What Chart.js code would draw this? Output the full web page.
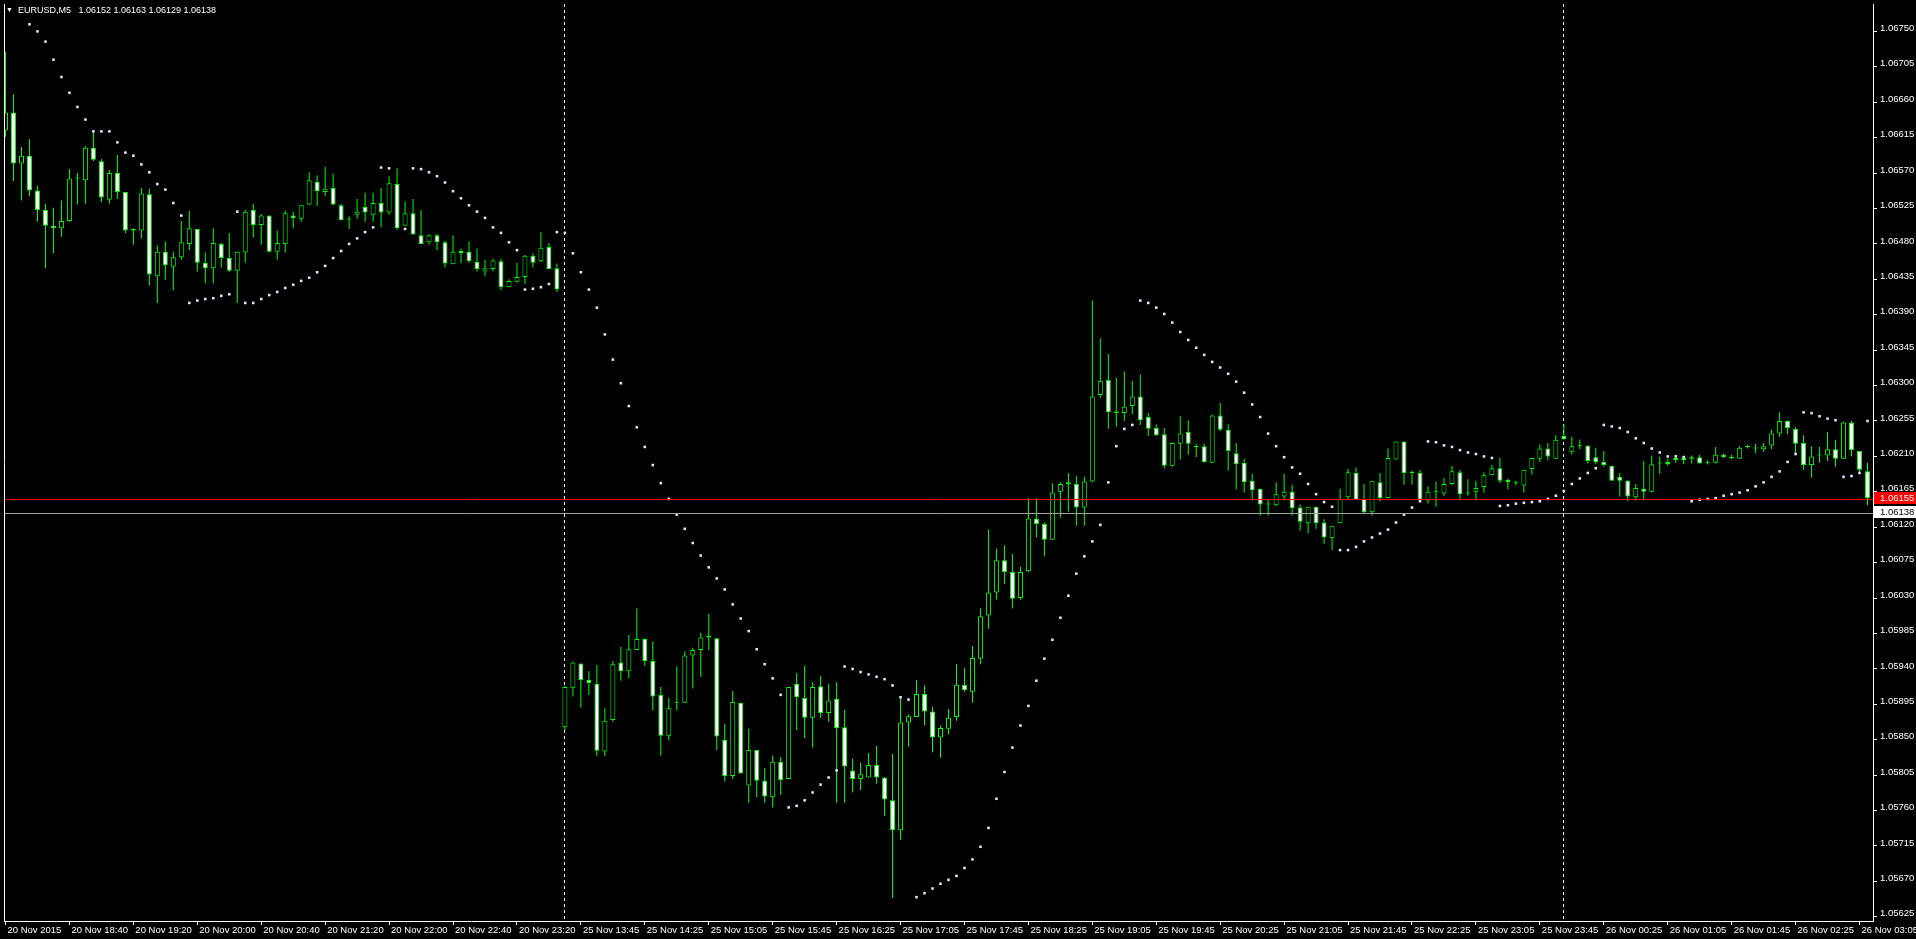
<!DOCTYPE html>
<html>
<head>
<meta charset="utf-8">
<script src="https://cdn.jsdelivr.net/npm/chart.js@4.4.0/dist/chart.umd.min.js"></script>
<style>
  html, body { margin: 0; padding: 0; background: #000; overflow: hidden; }
  #wrap { position: relative; width: 1916px; height: 939px; }
  #head { position: absolute; left: 6px; top: 5px; color: #fff; font: 9px "Liberation Sans", Arial, sans-serif; white-space: pre; }
  #tri { font-size: 7px; position: relative; top: -1px; }
</style>
</head>
<body>
<div id="wrap"><canvas id="myChart"></canvas><div id="head"><span id="tri">&#9660;</span>  <span id="title"></span></div></div>
<script>
var symbol = 'EURUSD,M5';

// one value per M5 bar, bar index = position in the array
var opens = [1.06624,1.06647,1.06582,1.06592,1.06548,1.06523,1.06503,1.06500,1.06509,1.06563,
1.06561,1.06602,1.06585,1.06536,1.06570,1.06546,1.06497,1.06497,1.06543,1.06439,
1.06470,1.06451,1.06463,1.06480,1.06499,1.06456,1.06449,1.06480,1.06462,1.06446,
1.06469,1.06523,1.06504,1.06516,1.06470,1.06480,1.06516,1.06512,1.06530,1.06559,
1.06546,1.06551,1.06529,1.06511,1.06517,1.06527,1.06517,1.06532,1.06520,1.06556,
1.06503,1.06519,1.06491,1.06482,1.06491,1.06482,1.06454,1.06471,1.06470,1.06457,
1.06445,1.06448,1.06458,1.06425,1.06432,1.06438,1.06465,1.06458,1.06476,1.06449,
1.05866,1.05916,1.05947,1.05926,1.05921,1.05835,1.05875,1.05948,1.05937,1.05964,
1.05978,1.05950,1.05907,1.05855,1.05897,1.05897,1.05957,1.05964,1.05980,1.05979,
1.05850,1.05804,1.05897,1.05792,1.05837,1.05798,1.05777,1.05822,1.05800,1.05921,
1.05903,1.05878,1.05918,1.05884,1.05902,1.05866,1.05811,1.05800,1.05802,1.05818,
1.05802,1.05773,1.05735,1.05872,1.05879,1.05908,1.05886,1.05853,1.05864,1.05879,
1.05920,1.05911,1.05953,1.06008,1.06037,1.06078,1.06063,1.06030,1.06064,1.06131,
1.06124,1.06104,1.06165,1.06175,1.06175,1.06145,1.06178,1.06288,1.06307,1.06267,
1.06265,1.06274,1.06286,1.06260,1.06246,1.06238,1.06198,1.06226,1.06241,1.06222,
1.06223,1.06202,1.06262,1.06244,1.06214,1.06202,1.06179,1.06169,1.06149,1.06148,
1.06159,1.06165,1.06145,1.06125,1.06146,1.06126,1.06106,1.06125,1.06158,1.06189,
1.06156,1.06139,1.06177,1.06157,1.06206,1.06229,1.06189,1.06189,1.06154,1.06165,
1.06163,1.06175,1.06190,1.06163,1.06165,1.06171,1.06186,1.06195,1.06180,1.06176,
1.06173,1.06194,1.06207,1.06220,1.06207,1.06236,1.06216,1.06223,1.06224,1.06209,
1.06203,1.06198,1.06184,1.06179,1.06158,1.06169,1.06165,1.06201,1.06203,1.06208,
1.06208,1.06207,1.06209,1.06202,1.06202,1.06212,1.06208,1.06207,1.06222,1.06220,
1.06219,1.06224,1.06239,1.06255,1.06245,1.06227,1.06199,1.06211,1.06211,1.06219,
1.06207,1.06253,1.06217,1.06191,1.06152];

var highs = [1.06724,1.06670,1.06603,1.06613,1.06554,1.06531,1.06526,1.06535,1.06575,1.06570,
1.06604,1.06623,1.06588,1.06574,1.06593,1.06546,1.06500,1.06551,1.06550,1.06478,
1.06483,1.06470,1.06509,1.06522,1.06499,1.06469,1.06500,1.06481,1.06494,1.06470,
1.06523,1.06531,1.06518,1.06516,1.06497,1.06522,1.06521,1.06529,1.06571,1.06567,
1.06578,1.06569,1.06531,1.06515,1.06537,1.06545,1.06545,1.06551,1.06566,1.06576,
1.06534,1.06537,1.06523,1.06492,1.06493,1.06484,1.06491,1.06474,1.06483,1.06474,
1.06460,1.06461,1.06461,1.06435,1.06456,1.06466,1.06468,1.06495,1.06481,1.06455,
1.05918,1.05949,1.05947,1.05937,1.05945,1.05890,1.05950,1.05968,1.05983,1.06017,
1.05979,1.05975,1.05917,1.05903,1.05943,1.05962,1.05967,1.05986,1.06010,1.05979,
1.05870,1.05912,1.05897,1.05864,1.05837,1.05814,1.05830,1.05828,1.05917,1.05935,
1.05944,1.05923,1.05931,1.05921,1.05923,1.05888,1.05826,1.05821,1.05833,1.05842,
1.05802,1.05832,1.05904,1.05882,1.05926,1.05919,1.05892,1.05868,1.05889,1.05946,
1.05941,1.05969,1.06017,1.06117,1.06093,1.06097,1.06086,1.06070,1.06157,1.06157,
1.06126,1.06176,1.06177,1.06189,1.06185,1.06184,1.06408,1.06360,1.06340,1.06310,
1.06318,1.06306,1.06314,1.06265,1.06251,1.06246,1.06228,1.06261,1.06256,1.06226,
1.06226,1.06263,1.06278,1.06251,1.06227,1.06207,1.06188,1.06169,1.06156,1.06177,
1.06188,1.06174,1.06149,1.06146,1.06146,1.06130,1.06122,1.06169,1.06194,1.06196,
1.06175,1.06179,1.06189,1.06220,1.06229,1.06229,1.06192,1.06193,1.06172,1.06178,
1.06183,1.06198,1.06193,1.06181,1.06179,1.06190,1.06199,1.06208,1.06182,1.06179,
1.06193,1.06208,1.06225,1.06227,1.06237,1.06251,1.06235,1.06231,1.06224,1.06221,
1.06217,1.06198,1.06189,1.06180,1.06175,1.06204,1.06211,1.06210,1.06207,1.06212,
1.06211,1.06211,1.06212,1.06205,1.06222,1.06214,1.06212,1.06223,1.06225,1.06226,
1.06227,1.06244,1.06266,1.06256,1.06247,1.06237,1.06223,1.06222,1.06241,1.06231,
1.06254,1.06255,1.06217,1.06202,1.06163];

var lows = [1.06616,1.06560,1.06535,1.06541,1.06508,1.06449,1.06468,1.06489,1.06508,1.06530,
1.06531,1.06585,1.06533,1.06531,1.06537,1.06494,1.06479,1.06487,1.06427,1.06405,
1.06434,1.06421,1.06460,1.06472,1.06445,1.06430,1.06430,1.06450,1.06444,1.06405,
1.06456,1.06488,1.06479,1.06469,1.06460,1.06469,1.06500,1.06508,1.06529,1.06528,
1.06541,1.06529,1.06510,1.06499,1.06512,1.06508,1.06508,1.06501,1.06517,1.06498,
1.06503,1.06492,1.06480,1.06479,1.06472,1.06450,1.06454,1.06455,1.06456,1.06445,
1.06439,1.06445,1.06421,1.06425,1.06431,1.06429,1.06450,1.06457,1.06448,1.06419,
1.05862,1.05905,1.05891,1.05907,1.05829,1.05829,1.05873,1.05925,1.05928,1.05964,
1.05944,1.05887,1.05830,1.05849,1.05887,1.05897,1.05915,1.05930,1.05964,1.05837,
1.05797,1.05800,1.05807,1.05770,1.05777,1.05770,1.05764,1.05780,1.05800,1.05862,
1.05852,1.05840,1.05878,1.05873,1.05770,1.05770,1.05783,1.05786,1.05802,1.05794,
1.05753,1.05649,1.05723,1.05841,1.05879,1.05868,1.05834,1.05827,1.05857,1.05874,
1.05911,1.05897,1.05946,1.05991,1.06028,1.06048,1.06017,1.06028,1.06063,1.06107,
1.06083,1.06104,1.06132,1.06140,1.06122,1.06122,1.06177,1.06284,1.06245,1.06248,
1.06255,1.06264,1.06250,1.06236,1.06236,1.06195,1.06197,1.06206,1.06212,1.06209,
1.06202,1.06202,1.06242,1.06192,1.06168,1.06164,1.06154,1.06135,1.06135,1.06147,
1.06154,1.06135,1.06116,1.06112,1.06118,1.06099,1.06091,1.06125,1.06155,1.06155,
1.06138,1.06135,1.06153,1.06157,1.06206,1.06174,1.06174,1.06153,1.06150,1.06146,
1.06160,1.06174,1.06154,1.06160,1.06154,1.06164,1.06186,1.06176,1.06168,1.06173,
1.06164,1.06187,1.06203,1.06205,1.06207,1.06231,1.06212,1.06219,1.06201,1.06200,
1.06197,1.06179,1.06159,1.06153,1.06154,1.06154,1.06164,1.06188,1.06198,1.06202,
1.06200,1.06201,1.06201,1.06200,1.06201,1.06208,1.06206,1.06207,1.06220,1.06214,
1.06216,1.06219,1.06235,1.06238,1.06213,1.06193,1.06183,1.06202,1.06204,1.06197,
1.06207,1.06210,1.06188,1.06148,1.06129];

var closes = [1.06647,1.06582,1.06592,1.06548,1.06523,1.06503,1.06500,1.06509,1.06563,1.06563,
1.06602,1.06587,1.06539,1.06570,1.06546,1.06497,1.06499,1.06544,1.06441,1.06470,
1.06453,1.06463,1.06482,1.06500,1.06456,1.06449,1.06481,1.06462,1.06446,1.06470,
1.06521,1.06504,1.06516,1.06470,1.06481,1.06519,1.06513,1.06529,1.06561,1.06547,
1.06550,1.06530,1.06510,1.06511,1.06521,1.06520,1.06532,1.06520,1.06557,1.06500,
1.06519,1.06492,1.06480,1.06491,1.06482,1.06455,1.06470,1.06468,1.06458,1.06448,
1.06449,1.06459,1.06425,1.06433,1.06438,1.06465,1.06456,1.06475,1.06448,1.06422,
1.05917,1.05948,1.05926,1.05922,1.05836,1.05874,1.05946,1.05937,1.05965,1.05978,
1.05950,1.05905,1.05855,1.05890,1.05897,1.05957,1.05964,1.05980,1.05982,1.05854,
1.05804,1.05898,1.05807,1.05837,1.05798,1.05778,1.05822,1.05799,1.05917,1.05904,
1.05878,1.05917,1.05884,1.05900,1.05865,1.05816,1.05800,1.05806,1.05818,1.05802,
1.05774,1.05735,1.05872,1.05880,1.05908,1.05886,1.05853,1.05865,1.05878,1.05920,
1.05913,1.05954,1.06007,1.06037,1.06078,1.06063,1.06029,1.06063,1.06131,1.06124,
1.06104,1.06164,1.06175,1.06177,1.06145,1.06178,1.06286,1.06306,1.06266,1.06265,
1.06273,1.06286,1.06256,1.06245,1.06237,1.06198,1.06227,1.06239,1.06226,1.06222,
1.06203,1.06262,1.06244,1.06217,1.06200,1.06177,1.06167,1.06149,1.06149,1.06162,
1.06165,1.06144,1.06127,1.06146,1.06125,1.06107,1.06122,1.06156,1.06190,1.06155,
1.06139,1.06179,1.06157,1.06208,1.06229,1.06189,1.06189,1.06155,1.06165,1.06165,
1.06175,1.06191,1.06162,1.06163,1.06170,1.06186,1.06195,1.06179,1.06177,1.06176,
1.06193,1.06208,1.06220,1.06210,1.06231,1.06232,1.06223,1.06223,1.06204,1.06203,
1.06199,1.06179,1.06179,1.06159,1.06170,1.06165,1.06200,1.06201,1.06200,1.06205,
1.06205,1.06209,1.06201,1.06202,1.06212,1.06209,1.06208,1.06221,1.06222,1.06220,
1.06223,1.06239,1.06255,1.06246,1.06226,1.06199,1.06210,1.06211,1.06219,1.06207,
1.06253,1.06218,1.06193,1.06157,1.06138];

// Parabolic SAR, null where no dot is visible
var sar = [null,null,null,1.06759,1.06750,1.06737,1.06714,1.06692,1.06672,1.06654,
1.06638,1.06623,1.06623,1.06623,1.06609,1.06596,1.06592,1.06581,1.06571,1.06556,
1.06549,1.06532,1.06516,1.06405,1.06408,1.06410,1.06411,1.06414,1.06416,1.06521,
1.06405,1.06405,1.06410,1.06415,1.06419,1.06424,1.06428,1.06433,1.06437,1.06444,
1.06452,1.06462,1.06471,1.06480,1.06487,1.06495,1.06501,1.06577,1.06576,null,
1.06499,1.06576,1.06575,1.06571,1.06566,1.06558,1.06547,1.06538,1.06529,1.06521,
1.06513,1.06501,1.06494,1.06482,1.06472,1.06422,1.06423,1.06425,1.06429,1.06495,
1.06494,1.06468,1.06444,1.06422,1.06399,1.06365,1.06333,1.06303,1.06274,1.06247,
1.06222,1.06199,1.06176,1.06156,1.06136,1.06118,1.06100,1.06084,1.06069,1.06055,
1.06041,1.06022,1.06004,1.05988,1.05965,1.05946,1.05928,1.05907,1.05764,1.05766,
1.05773,1.05783,1.05793,1.05802,1.05811,1.05943,1.05940,1.05936,1.05933,1.05930,
1.05927,1.05919,1.05904,1.05901,1.05650,1.05655,1.05661,1.05667,1.05672,1.05677,
1.05687,1.05698,1.05714,1.05738,1.05775,1.05809,1.05840,1.05868,1.05893,1.05925,
1.05953,1.05977,1.06005,1.06033,1.06061,1.06083,1.06102,1.06123,1.06177,1.06223,
1.06245,1.06250,1.06408,1.06405,1.06399,1.06391,1.06380,1.06368,1.06358,1.06348,
1.06339,1.06330,1.06323,1.06315,1.06305,1.06291,1.06276,1.06260,1.06239,1.06223,
1.06209,1.06196,1.06188,1.06175,1.06162,1.06152,1.06146,1.06091,1.06091,1.06095,
1.06102,1.06107,1.06112,1.06117,1.06126,1.06136,1.06145,1.06153,1.06229,1.06228,
1.06224,1.06222,1.06218,1.06215,1.06213,1.06210,1.06208,1.06147,1.06148,1.06150,
1.06151,1.06152,1.06153,1.06156,1.06160,1.06166,1.06175,1.06182,1.06189,1.06195,
1.06250,1.06248,1.06246,1.06241,1.06233,1.06227,1.06220,1.06215,1.06210,1.06210,
1.06209,1.06153,1.06155,1.06156,1.06157,1.06160,1.06162,1.06164,1.06167,1.06172,
1.06177,1.06184,1.06191,1.06203,1.06213,1.06266,1.06265,1.06261,1.06258,1.06256,
1.06184,1.06185,1.06189,1.06255,null];

var timeTickIdx = [0,8,16,24,32,40,48,56,64,72,80,88,96,104,112,120,128,136,144,152,160,168,176,184,192,200,208,216,224,232];
var timeTickLabels = ['20 Nov 2015','20 Nov 18:40','20 Nov 19:20','20 Nov 20:00','20 Nov 20:40','20 Nov 21:20',
  '20 Nov 22:00','20 Nov 22:40','20 Nov 23:20','25 Nov 13:45','25 Nov 14:25','25 Nov 15:05','25 Nov 15:45',
  '25 Nov 16:25','25 Nov 17:05','25 Nov 17:45','25 Nov 18:25','25 Nov 19:05','25 Nov 19:45','25 Nov 20:25',
  '25 Nov 21:05','25 Nov 21:45','25 Nov 22:25','25 Nov 23:05','25 Nov 23:45','26 Nov 00:25','26 Nov 01:05',
  '26 Nov 01:45','26 Nov 02:25','26 Nov 03:05'];
var priceTicks = [1.05625,1.05670,1.05715,1.05760,1.05805,1.05850,1.05895,1.05940,1.05985,1.06030,
  1.06075,1.06120,1.06165,1.06210,1.06255,1.06300,1.06345,1.06390,1.06435,1.06480,
  1.06525,1.06570,1.06615,1.06660,1.06705,1.06750];
var daySeparators = [70, 195];
var ask = 1.06155;
var bid = 1.06138;

var last = opens.length - 1;
document.getElementById('title').textContent = symbol + '   ' +
  [opens[last], highs[last], lows[last], closes[last]].map(function (v) { return v.toFixed(5); }).join(' ');

var wicks = [], bodies = [], bodyFill = [], dots = [];
for (var i = 0; i < opens.length; i++) {
  wicks.push({ x: i, y: [lows[i], highs[i]] });
  bodies.push({ x: i, y: [Math.min(opens[i], closes[i]), Math.max(opens[i], closes[i])] });
  bodyFill.push(closes[i] >= opens[i] ? '#000000' : '#ffffff');
  if (sar[i] !== null) dots.push({ x: i, y: sar[i] });
}

var overlay = {
  id: 'overlay',
  beforeDatasetsDraw: function (chart) {
    var ctx = chart.ctx, a = chart.chartArea, xs = chart.scales.x;
    ctx.save();
    ctx.strokeStyle = '#ffffff';
    ctx.lineWidth = 1;
    ctx.setLineDash([3, 3]);
    daySeparators.forEach(function (k) {
      var x = Math.floor(xs.getPixelForValue(k)) + 0.5;
      ctx.beginPath(); ctx.moveTo(x, a.top); ctx.lineTo(x, a.bottom); ctx.stroke();
    });
    ctx.restore();
  },
  afterDatasetsDraw: function (chart) {
    var ctx = chart.ctx, a = chart.chartArea, ys = chart.scales.y;
    ctx.save();
    ctx.lineWidth = 1;
    [[bid, '#a0a0a0'], [ask, '#ff0000']].forEach(function (p) {
      var y = Math.floor(ys.getPixelForValue(p[0])) + 0.5;
      ctx.strokeStyle = p[1];
      ctx.beginPath(); ctx.moveTo(a.left, y); ctx.lineTo(a.right, y); ctx.stroke();
    });
    ctx.strokeStyle = '#ffffff';
    ctx.beginPath(); ctx.moveTo(a.left + 0.5, a.top); ctx.lineTo(a.left + 0.5, a.bottom); ctx.stroke();
    ctx.restore();
  },
  afterDraw: function (chart) {
    var ctx = chart.ctx, a = chart.chartArea, ys = chart.scales.y;
    var yA = Math.floor(ys.getPixelForValue(ask)), yB = Math.floor(ys.getPixelForValue(bid));
    var w = chart.width - a.right - 1;
    ctx.save();
    ctx.font = '9.5px "Liberation Sans"';
    ctx.textBaseline = 'middle';
    ctx.fillStyle = '#ff0000';
    ctx.fillRect(a.right + 1, yA - 7, w, 12);
    ctx.fillStyle = '#ffffff';
    ctx.fillText(ask.toFixed(5), a.right + 7, yA - 1);
    ctx.fillStyle = '#ffffff';
    ctx.fillRect(a.right + 1, yB - 7, w, 12);
    ctx.fillStyle = '#000000';
    ctx.fillText(bid.toFixed(5), a.right + 7, yB - 1);
    ctx.restore();
  }
};

var myChart = new Chart(document.getElementById('myChart'), {
  type: 'bar',
  data: {
    datasets: [{
      data: wicks,
      backgroundColor: '#00ff00',
      borderWidth: 0,
      barThickness: 1,
      minBarLength: 1,
      inflateAmount: 0,
      grouped: false,
      clip: 0,
      order: 3
    }, {
      data: bodies,
      backgroundColor: bodyFill,
      borderColor: '#00ff00',
      borderWidth: 1,
      borderSkipped: false,
      barThickness: 5,
      minBarLength: 1,
      inflateAmount: 0,
      grouped: false,
      clip: 0,
      order: 2
    }, {
      type: 'scatter',
      data: dots,
      pointStyle: 'rect',
      pointRadius: 1.8,
      pointBackgroundColor: '#e2e9ff',
      pointBorderWidth: 0,
      clip: 0,
      order: 1
    }]
  },
  options: {
    responsive: true,
    maintainAspectRatio: false,
    animation: false,
    events: [],
    layout: { padding: { left: 2, top: 0, right: 0, bottom: 0 } },
    plugins: { legend: { display: false }, tooltip: { enabled: false } },
    scales: {
      x: {
        type: 'linear',
        min: -0.1875,
        max: 233.6875,
        offset: false,
        bounds: 'data',
        afterFit: function (s) { s.height = 18; s.paddingLeft = 0; s.paddingRight = 0; },
        afterBuildTicks: function (s) { s.ticks = timeTickIdx.map(function (v) { return { value: v }; }); },
        grid: { display: true, drawOnChartArea: false, drawTicks: true, tickLength: 4, color: '#ffffff', offset: false },
        border: { display: true, color: '#ffffff', width: 1 },
        ticks: {
          autoSkip: false, maxRotation: 0, minRotation: 0, align: 'start', labelOffset: 2, padding: 0,
          color: '#ffffff', font: { family: 'Liberation Sans', size: 9.5 },
          callback: function (v, idx) { return timeTickLabels[idx]; }
        }
      },
      y: {
        type: 'linear',
        position: 'right',
        min: 1.056197,
        max: 1.067848,
        bounds: 'data',
        beginAtZero: false,
        afterFit: function (s) { s.width = 43; s.paddingTop = 0; s.paddingBottom = 0; },
        afterBuildTicks: function (s) { s.ticks = priceTicks.map(function (v) { return { value: v }; }); },
        grid: { display: true, drawOnChartArea: false, drawTicks: true, tickLength: 4, color: '#ffffff' },
        border: { display: true, color: '#ffffff', width: 1 },
        ticks: {
          autoSkip: false, padding: 3, labelOffset: -3, color: '#ffffff', font: { family: 'Liberation Sans', size: 9.5 },
          callback: function (v) { return v.toFixed(5); }
        }
      }
    }
  },
  plugins: [overlay]
});
</script>
</body>
</html>
